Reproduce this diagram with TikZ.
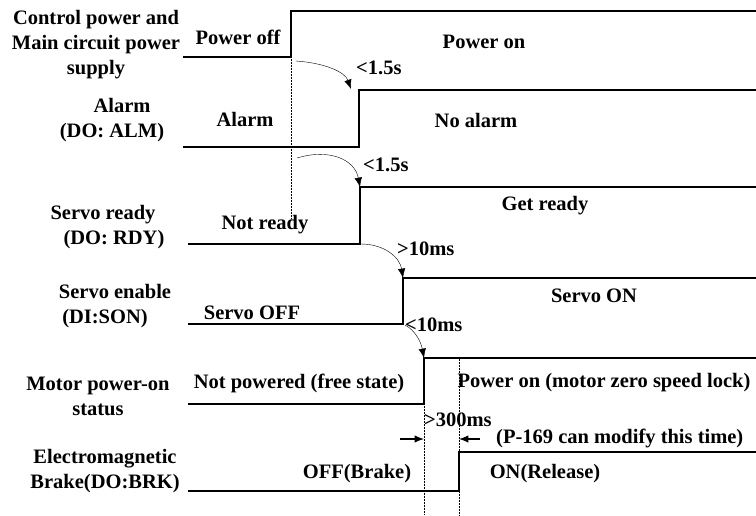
\documentclass[tikz,border=0pt]{standalone}
\usepackage{fontspec}
\setmainfont{Liberation Serif}
\usetikzlibrary{arrows.meta}

\tikzset{
  wave/.style={line width=1.8pt},
  guide/.style={densely dotted, line width=0.5pt},
  lbl/.style={font=\bfseries\fontsize{20.5}{25}\selectfont, inner sep=0pt, align=center},
}

\begin{document}
\begin{tikzpicture}[x=1pt, y=-1pt, >={Latex[length=3.3mm, width=2.6mm]}]
  \useasboundingbox (0,0) rectangle (756,515);
  % edges of the waveforms
  \coordinate (pwr) at (291,57);
  \coordinate (alm) at (359,147);
  \coordinate (rdy) at (360,244);
  \coordinate (son) at (403,324);
  \coordinate (mot) at (424,404);
  \coordinate (brk) at (459,491);

  % guide lines
  \draw[guide] (pwr) -- (291,218);
  \draw[guide] (mot) -- (424,515);
  \draw[guide] (459,357) -- (459,515);

  % waveforms
  \draw[wave] (183,57) -- (pwr) -- (291,11) -- (756,11);
  \draw[wave] (183,147) -- (alm) -- (359,90) -- (756,90);
  \draw[wave] (188,244) -- (rdy) -- (360,187) -- (756,187);
  \draw[wave] (188,324) -- (son) -- (403,278) -- (756,278);
  \draw[wave] (188,404) -- (mot) -- (424,358) -- (756,358);
  \draw[wave] (188,491) -- (brk) -- (459,452) -- (756,452);

  % signal names
  \node[lbl] (n1) at (96,45) {Control power and\\Main circuit power\\supply};
  \node[lbl] (n2) at (112,120) {\hspace*{20pt}Alarm\\(DO: ALM)};
  \node[lbl] (n3) at (103,227) {Servo ready\\\hspace*{22pt}(DO: RDY)};
  \node[lbl] (n4) at (115,306) {Servo enable\\(DI:SON)\hspace*{20pt}};
  \node[lbl] (n5) at (98,396) {Motor power-on\\status};
  \node[lbl] (n6) at (105,471) {Electromagnetic\\Brake(DO:BRK)};

  % states
  \node[lbl] (s1a) at (238,37) {Power off};
  \node[lbl] (s1b) at (484,42) {Power on};
  \node[lbl] (s2a) at (245,119) {Alarm};
  \node[lbl] (s2b) at (476,120) {No alarm};
  \node[lbl] (s3a) at (265,225) {Not ready};
  \node[lbl] (s3b) at (545,206) {Get ready};
  \node[lbl] (s4a) at (252,313) {Servo OFF};
  \node[lbl] (s4b) at (594,296) {Servo ON};
  \node[lbl] (s5a) at (299,383) {Not powered (free state)};
  \node[lbl] (s5b) at (604,383) {Power on (motor zero speed lock)};
  \node[lbl] (s6a) at (357,474) {OFF(Brake)};
  \node[lbl] (s6b) at (545,474) {ON(Release)};

  % delays
  \coordinate (a1s) at (296,61);  \coordinate (a1e) at (351,89);
  \coordinate (a2s) at (297,158); \coordinate (a2e) at (360,187);
  \coordinate (a3s) at (361,244); \coordinate (a3e) at (403,278);
  \coordinate (a4s) at (405,325); \coordinate (a4e) at (424,358);
  \draw[->] (a1s) .. controls (325,63) and (345,72) .. (a1e);
  \draw[->] (a2s) .. controls (330,148) and (355,160) .. (a2e);
  \draw[->] (a3s) .. controls (385,244) and (400,258) .. (a3e);
  \draw[->] (a4s) .. controls (415,330) and (421,342) .. (a4e);
  \node[lbl, anchor=west] (t1) at (356,68) {<1.5s};
  \node[lbl, anchor=west] (t2) at (363,165) {<1.5s};
  \node[lbl, anchor=west] (t3) at (397,249) {>10ms};
  \node[lbl, anchor=west] (t4) at (405,325) {<10ms};
  \node[lbl, anchor=west] (t5) at (424,420) {>300ms};
  \node[lbl, anchor=west] (t6) at (496,438) {(P-169 can modify this time)};

  % brake delay window
  \coordinate (w1) at (424,439); \coordinate (w2) at (459,439);
  \draw[->, line width=1.2pt] (400,439) -- (w1);
  \draw[->, line width=1.2pt] (480,439) -- (w2);
\end{tikzpicture}
\end{document}
